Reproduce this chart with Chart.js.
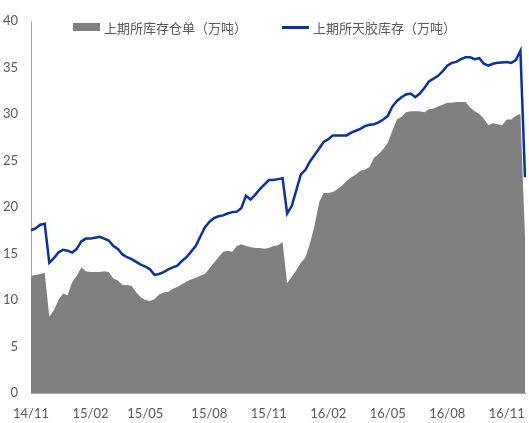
<!DOCTYPE html>
<html lang="zh">
<head>
<meta charset="UTF-8">
<title>上期所库存</title>
<script src="https://cdn.jsdelivr.net/npm/chart.js"></script>
<style>
  body { margin: 0; background: #fff; }
  #wrap { position: relative; width: 529px; height: 423px; }
  .legend-item {
    position: absolute; top: 19px; height: 16px;
    display: flex; align-items: center;
    font: 13px "Noto Sans CJK SC", sans-serif; color: #595959;
  }
  .swatch-area { width: 27px; height: 8px; background: #808080; margin-right: 4px; }
  .swatch-line { width: 27px; height: 3px; background: #0a31a1; margin-right: 4px; }
</style>
</head>
<body>
<div id="wrap">
  <canvas id="stockChart"></canvas>
  <!-- 图例 -->
  <div class="legend-item" style="left:73px;"><span class="swatch-area"></span>上期所库存仓单（万吨）</div>
  <div class="legend-item" style="left:282px;"><span class="swatch-line"></span>上期所天胶库存（万吨）</div>
</div>
<script>
// 周度数据, 从 2014-11-07 起每周一个点
const startDate = Date.UTC(2014, 10, 7);

// 横轴只显示季度月份
const tickMonths = ['14/11', '15/02', '15/05', '15/08', '15/11', '16/02', '16/05', '16/08', '16/11'];

// 上期所天胶库存（万吨）
const rubberStock = [
  17.5, 17.7, 18.1, 18.2, 14.0, 14.5, 15.1, 15.4, 15.3, 15.1,
  15.5, 16.3, 16.6, 16.6, 16.7, 16.8, 16.6, 16.4, 15.8, 15.5,
  14.9, 14.6, 14.4, 14.1, 13.8, 13.6, 13.3, 12.7, 12.8, 13.0,
  13.3, 13.5, 13.7, 14.2, 14.6, 15.2, 15.8, 16.8, 17.8, 18.4,
  18.8, 19.0, 19.1, 19.3, 19.45, 19.5, 19.9, 21.2, 20.8, 21.3,
  21.9, 22.4, 22.9, 22.9, 23.0, 23.1, 19.3, 20.1, 21.8, 23.5,
  24.0, 24.9, 25.6, 26.3, 27.0, 27.3, 27.7, 27.7, 27.7, 27.7,
  28.0, 28.2, 28.4, 28.7, 28.85, 28.9, 29.1, 29.4, 29.8, 30.8,
  31.4, 31.8, 32.1, 32.2, 31.8, 32.2, 32.8, 33.5, 33.8, 34.1,
  34.6, 35.2, 35.5, 35.6, 35.9, 36.1, 36.1, 35.9, 36.0, 35.4,
  35.2, 35.4, 35.5, 35.55, 35.6, 35.5, 35.8, 36.8, 23.2
];

// 上期所库存仓单（万吨）
const warrantStock = [
  12.6, 12.7, 12.8, 12.9, 8.2, 8.9, 10.0, 10.7, 10.5, 11.9,
  12.6, 13.5, 13.1, 13.0, 13.0, 13.0, 13.1, 13.0, 12.3, 12.1,
  11.6, 11.6, 11.5, 10.8, 10.3, 10.0, 9.9, 10.1, 10.6, 10.8,
  10.9, 11.2, 11.4, 11.7, 12.0, 12.2, 12.4, 12.6, 12.8, 13.4,
  14.0, 14.6, 15.2, 15.3, 15.2, 15.8, 16.0, 15.8, 15.7, 15.6,
  15.6, 15.5, 15.6, 15.8, 15.9, 16.2, 11.8, 12.5, 13.2, 14.0,
  14.6, 16.1, 18.0, 20.5, 21.5, 21.5, 21.6, 21.9, 22.3, 22.8,
  23.2, 23.5, 23.9, 24.0, 24.3, 25.3, 25.7, 26.2, 26.9, 28.2,
  29.4, 29.7, 30.2, 30.3, 30.3, 30.3, 30.2, 30.5, 30.6, 30.8,
  31.0, 31.2, 31.2, 31.3, 31.3, 31.3, 30.7, 30.3, 30.0, 29.5,
  28.8, 29.0, 28.9, 28.8, 29.4, 29.4, 29.8, 30.0, 16.8
];

// 每个点的 "年/月" 标签
const weekLabels = rubberStock.map((_, i) => {
  const d = new Date(startDate + i * 7 * 86400000);
  const yy = String(d.getUTCFullYear()).slice(2);
  const mm = String(d.getUTCMonth() + 1).padStart(2, '0');
  return yy + '/' + mm;
});

const tickFont = { family: 'Lato, "Noto Sans", sans-serif', size: 13 };

new Chart(document.getElementById('stockChart'), {
  type: 'line',
  data: {
    labels: weekLabels,
    datasets: [
      {
        label: '上期所天胶库存（万吨）',
        data: rubberStock,
        borderColor: '#0a31a1',
        borderWidth: 2.5,
        pointRadius: 0,
        tension: 0,
        fill: false
      },
      {
        label: '上期所库存仓单（万吨）',
        data: warrantStock,
        borderWidth: 0,
        borderColor: '#808080',
        backgroundColor: '#808080',
        pointRadius: 0,
        tension: 0,
        fill: 'origin'
      }
    ]
  },
  options: {
    responsive: true,
    maintainAspectRatio: false,
    animation: false,
    layout: { padding: { top: 21, right: 4, left: 0, bottom: 0 } },
    plugins: {
      legend: { display: false },
      tooltip: { enabled: false }
    },
    scales: {
      x: {
        // 固定轴高度, 去掉标签带来的左右留白
        afterFit: (scale) => {
          scale.height = 30;
          scale.paddingLeft = 0;
          scale.paddingRight = 0;
        },
        grid: { color: 'transparent', drawTicks: false },
        border: { color: '#a6a6a6', width: 1 },
        ticks: {
          autoSkip: false,
          maxRotation: 0,
          padding: 13,
          color: '#595959',
          font: tickFont,
          callback: function (value, index) {
            const lab = weekLabels[index];
            const first = index === 0 || weekLabels[index - 1] !== lab;
            return first && tickMonths.includes(lab) ? lab : '';
          }
        }
      },
      y: {
        min: 0,
        max: 40,
        afterFit: (scale) => { scale.width = 31; },
        grid: { color: 'transparent', drawTicks: false },
        border: { color: '#a6a6a6', width: 1 },
        ticks: {
          stepSize: 5,
          padding: 13,
          color: '#595959',
          font: tickFont
        }
      }
    }
  }
});
</script>
</body>
</html>
